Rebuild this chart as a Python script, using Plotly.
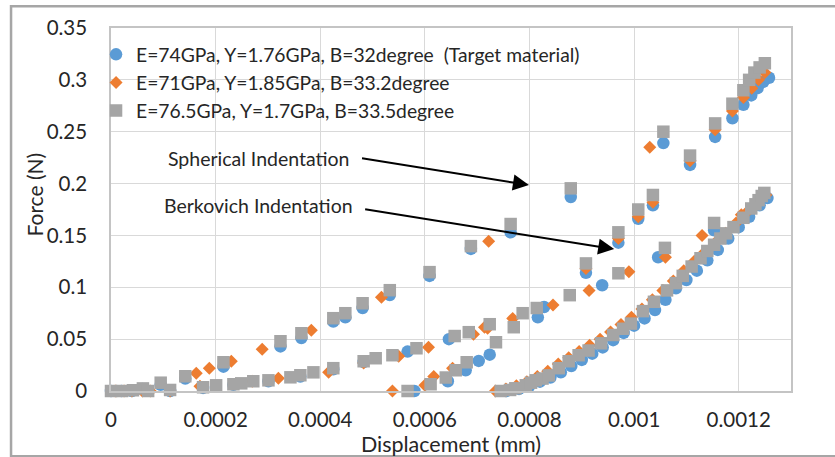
import plotly.graph_objects as go

# ---------------- data (Displacement in mm, Force in N) ----------------
series_names = [
    "E=74GPa, Y=1.76GPa, B=32degree\u00a0\u00a0(Target material)",
    "E=71GPa, Y=1.85GPa, B=33.2degree",
    "E=76.5GPa, Y=1.7GPa, B=33.5degree",
]

# Target material (E=74GPa)
t_orig_x = [0, 0.00002, 0.00004, 0.00006, 0.000095, 0.000113]
t_orig_y = [0, 0, 0, 0.002, 0.006, 0]
t_sl_x = [0.000142, 0.000215, 0.000324, 0.000364, 0.000425, 0.000448, 0.000481, 0.000533,
          0.000609, 0.000688, 0.000764, 0.000879, 0.001056]
t_sl_y = [0.012, 0.0235, 0.043, 0.051, 0.067, 0.071, 0.080, 0.0925, 0.111, 0.137, 0.153, 0.187, 0.239]
t_su_x = [0.00058, 0.000644, 0.000678, 0.000703, 0.000724, 0.000816, 0.000908, 0.00097, 0.001008,
          0.001036, 0.001107, 0.001155, 0.001188, 0.001209, 0.001224, 0.001236, 0.001247, 0.001258]
t_su_y = [0, 0.0094, 0.02, 0.029, 0.035, 0.071, 0.114, 0.143, 0.166, 0.179, 0.218, 0.245, 0.263,
          0.276, 0.285, 0.292, 0.298, 0.302]
t_bl_x = [0.000176, 0.000234, 0.000301, 0.000362, 0.000425, 0.000483, 0.000567, 0.000646,
          0.000828, 0.000939, 0.001046, 0.001153]
t_bl_y = [0.003, 0.006, 0.0094, 0.014, 0.021, 0.028, 0.038, 0.050, 0.081, 0.102, 0.129, 0.155]
t_bu_x = [0.000755, 0.00078, 0.0008, 0.00082, 0.00084, 0.00086, 0.00088, 0.0009, 0.00092, 0.00094,
          0.00096, 0.00098, 0.001, 0.00102, 0.00104, 0.00106, 0.00108, 0.0011, 0.00112, 0.00114,
          0.00116, 0.00118, 0.0012, 0.00122, 0.00124, 0.001255]
t_bu_y = [0, 0.002, 0.005, 0.009, 0.013, 0.018, 0.024, 0.03, 0.036, 0.042, 0.049, 0.056, 0.063,
          0.070, 0.078, 0.088, 0.099, 0.107, 0.116, 0.126, 0.136, 0.147, 0.158, 0.168, 0.179, 0.186]

# E=71GPa
o_orig_x = [0.000008, 0.000025, 0.00004, 0.00006, 0.000075, 0.000113]
o_orig_y = [0, 0, 0, 0, 0, 0]
o_sl_x = [0.000163, 0.000188, 0.00023, 0.000289, 0.000383, 0.000517, 0.000722, 0.00103]
o_sl_y = [0.0171, 0.022, 0.0286, 0.0403, 0.0586, 0.0905, 0.1445, 0.235]
o_su_x = [0.000538, 0.0006, 0.000617, 0.000653, 0.00072, 0.000768, 0.000908, 0.00097, 0.001008,
          0.001036, 0.001107, 0.001155, 0.001188, 0.001209, 0.001225, 0.001238, 0.00125]
o_su_y = [0, 0.0055, 0.014, 0.022, 0.0605, 0.070, 0.118, 0.147, 0.168, 0.182, 0.222, 0.252, 0.27,
          0.283, 0.292, 0.3, 0.307]
o_bl_x = [0.00017, 0.00027, 0.00032, 0.000416, 0.000483, 0.00055, 0.000607, 0.000693, 0.000714,
          0.000845, 0.000914, 0.00099, 0.00106, 0.00113, 0.001205]
o_bl_y = [0.0045, 0.0094, 0.0123, 0.018, 0.027, 0.0335, 0.0422, 0.0547, 0.0615, 0.083, 0.097,
          0.115, 0.129, 0.15, 0.17]
o_bu_x = [0.000735, 0.000755, 0.000775, 0.000795, 0.000815, 0.000835, 0.000855, 0.000875, 0.000895,
          0.000915, 0.000935, 0.000955, 0.000975, 0.000995, 0.001015, 0.001035, 0.001055, 0.001075,
          0.001095, 0.001115, 0.001135, 0.001155, 0.001175, 0.001195, 0.001215, 0.001235, 0.001252]
o_bu_y = [0, 0.002, 0.005, 0.009, 0.014, 0.019, 0.026, 0.032, 0.038, 0.044, 0.050, 0.057, 0.064,
          0.071, 0.079, 0.088, 0.097, 0.106, 0.116, 0.125, 0.134, 0.143, 0.152, 0.162, 0.172,
          0.181, 0.189]

# E=76.5GPa
g_orig_x = [0, 0.000021, 0.000042, 0.000061, 0.000071, 0.000095, 0.000113]
g_orig_y = [0, 0, 0.0007, 0.0025, 0, 0.008, 0.001]
g_sl_x = [0.000142, 0.000215, 0.000324, 0.000364, 0.000425, 0.000448, 0.000481, 0.000533,
          0.000609, 0.000688, 0.000764, 0.000879, 0.001056]
g_sl_y = [0.0142, 0.0277, 0.048, 0.0557, 0.0702, 0.075, 0.0846, 0.0972, 0.1146, 0.1397, 0.161,
          0.1954, 0.25]
g_su_x = [0.000567, 0.000611, 0.00064, 0.000659, 0.00068, 0.000736, 0.00077, 0.000814, 0.000908,
          0.00097, 0.001008, 0.001036, 0.001107, 0.001155, 0.001188, 0.001209, 0.00122, 0.00123,
          0.00124, 0.00125]
g_su_y = [0, 0.0065, 0.013, 0.02, 0.0277, 0.047, 0.0615, 0.08, 0.123, 0.153, 0.175, 0.189, 0.227,
          0.258, 0.277, 0.29, 0.3, 0.307, 0.312, 0.316]
g_bl_x = [0.000176, 0.000201, 0.000234, 0.000249, 0.000272, 0.000301, 0.000343, 0.000362, 0.000387,
          0.000425, 0.000483, 0.000506, 0.000538, 0.000584, 0.000657, 0.000684, 0.000724, 0.000787,
          0.000877, 0.00097, 0.001059, 0.001153]
g_bl_y = [0.0036, 0.0055, 0.0065, 0.0074, 0.0094, 0.0103, 0.0132, 0.0152, 0.018, 0.022, 0.0287,
          0.0316, 0.0345, 0.0412, 0.053, 0.0567, 0.0644, 0.075, 0.0924, 0.1135, 0.138, 0.162]
g_bu_x = [0.000745, 0.000763, 0.000773, 0.000793, 0.000803, 0.000812, 0.000825, 0.000837, 0.000856,
          0.000875, 0.000894, 0.000913, 0.000937, 0.00096, 0.000979, 0.000994, 0.001017, 0.001038,
          0.001063, 0.00108, 0.001093, 0.00111, 0.001127, 0.00114, 0.001153, 0.001165, 0.001176,
          0.00119, 0.001209, 0.001224, 0.001232, 0.001238, 0.001244, 0.001249]
g_bu_y = [0, 0.001, 0.0026, 0.0055, 0.008, 0.0103, 0.012, 0.015, 0.022, 0.0287, 0.0345, 0.039,
          0.046, 0.054, 0.060, 0.065, 0.077, 0.086, 0.097, 0.104, 0.111, 0.12, 0.128, 0.135, 0.141,
          0.147, 0.152, 0.158, 0.167, 0.176, 0.18, 0.184, 0.188, 0.191]

x_tick_vals = [0, 0.0002, 0.0004, 0.0006, 0.0008, 0.001, 0.0012]
x_tick_text = ["0", "0.0002", "0.0004", "0.0006", "0.0008", "0.001", "0.0012"]
y_tick_vals = [0, 0.05, 0.1, 0.15, 0.2, 0.25, 0.3, 0.35]
y_tick_text = ["0", "0.05", "0.1", "0.15", "0.2", "0.25", "0.3", "0.35"]

FONT = "Lato, 'Open Sans', sans-serif"
TXT = "#262626"

series = [
    (series_names[0], t_orig_x + t_sl_x + t_su_x + t_bl_x + t_bu_x,
     t_orig_y + t_sl_y + t_su_y + t_bl_y + t_bu_y, "#5B9BD5", "circle", 12.5),
    (series_names[1], o_orig_x + o_sl_x + o_su_x + o_bl_x + o_bu_x,
     o_orig_y + o_sl_y + o_su_y + o_bl_y + o_bu_y, "#ED7D31", "diamond", 10),
    (series_names[2], g_orig_x + g_sl_x + g_su_x + g_bl_x + g_bu_x,
     g_orig_y + g_sl_y + g_su_y + g_bl_y + g_bu_y, "#A5A5A5", "square", 12.5),
]

fig = go.Figure()
for name, xs, ys, col, sym, sz in series:
    fig.add_trace(go.Scatter(
        x=xs, y=ys, mode="markers", name=name, cliponaxis=False,
        marker=dict(color=col, symbol=sym, size=sz, line=dict(width=0)),
    ))

axis_common = dict(
    showgrid=True, gridcolor="#d9d9d9", gridwidth=1.3,
    showline=True, linecolor="#c4c4c4", linewidth=1.5, mirror=True,
    zeroline=False, ticks="", automargin=False,
    tickfont=dict(family=FONT, size=20.5, color=TXT),
)

fig.update_layout(
    width=835, height=457,
    margin=dict(l=111, r=44, t=28, b=66, autoexpand=False),
    paper_bgcolor="white", plot_bgcolor="white",
    font=dict(family=FONT, color=TXT),
    xaxis=dict(range=[0, 0.0013], tickvals=x_tick_vals, ticktext=x_tick_text,
               ticklabelstandoff=10,
               title=dict(text="Displacement (mm)", font=dict(family=FONT, size=21.5, color=TXT),
                          standoff=0),
               **axis_common),
    yaxis=dict(range=[0, 0.35], tickvals=y_tick_vals, ticktext=y_tick_text,
               ticklabelstandoff=18, **axis_common),
    legend=dict(x=-0.022, y=0.98, xanchor="left", yanchor="top",
                bgcolor="rgba(0,0,0,0)", borderwidth=0,
                font=dict(family=FONT, size=19.3, color=TXT),
                itemwidth=30, tracegroupgap=0),
    showlegend=True,
)

annotations = [
    dict(text="Force (N)", xref="paper", yref="paper", x=-0.1125, y=0.54, textangle=-90,
         xanchor="center", yanchor="middle",
         showarrow=False, font=dict(family=FONT, size=21, color=TXT)),
    dict(text="Spherical Indentation", xref="x", yref="y", x=0.000282, y=0.2237,
         xanchor="center", yanchor="middle",
         showarrow=False, font=dict(family=FONT, size=19.5, color=TXT)),
    dict(text="Berkovich Indentation", xref="x", yref="y", x=0.000282, y=0.179,
         xanchor="center", yanchor="middle",
         showarrow=False, font=dict(family=FONT, size=19.5, color=TXT)),
    dict(text="", xref="x", yref="y", axref="x", ayref="y",
         x=0.000799, y=0.1986, ax=0.000477, ay=0.2247,
         showarrow=True, arrowhead=2, arrowsize=1.6, arrowwidth=2, arrowcolor="black"),
    dict(text="", xref="x", yref="y", axref="x", ayref="y",
         x=0.000962, y=0.1368, ax=0.000483, ay=0.1754,
         showarrow=True, arrowhead=2, arrowsize=1.6, arrowwidth=2, arrowcolor="black"),
]
fig.update_layout(annotations=annotations)

# outer chart border
fig.add_shape(type="rect", xref="paper", yref="paper", x0=-0.147, x1=1.08, y0=-0.18, y1=1.06,
              line=dict(color="#a6a6a6", width=2.5), fillcolor="rgba(0,0,0,0)", layer="below")

fig.write_html("out.html")
